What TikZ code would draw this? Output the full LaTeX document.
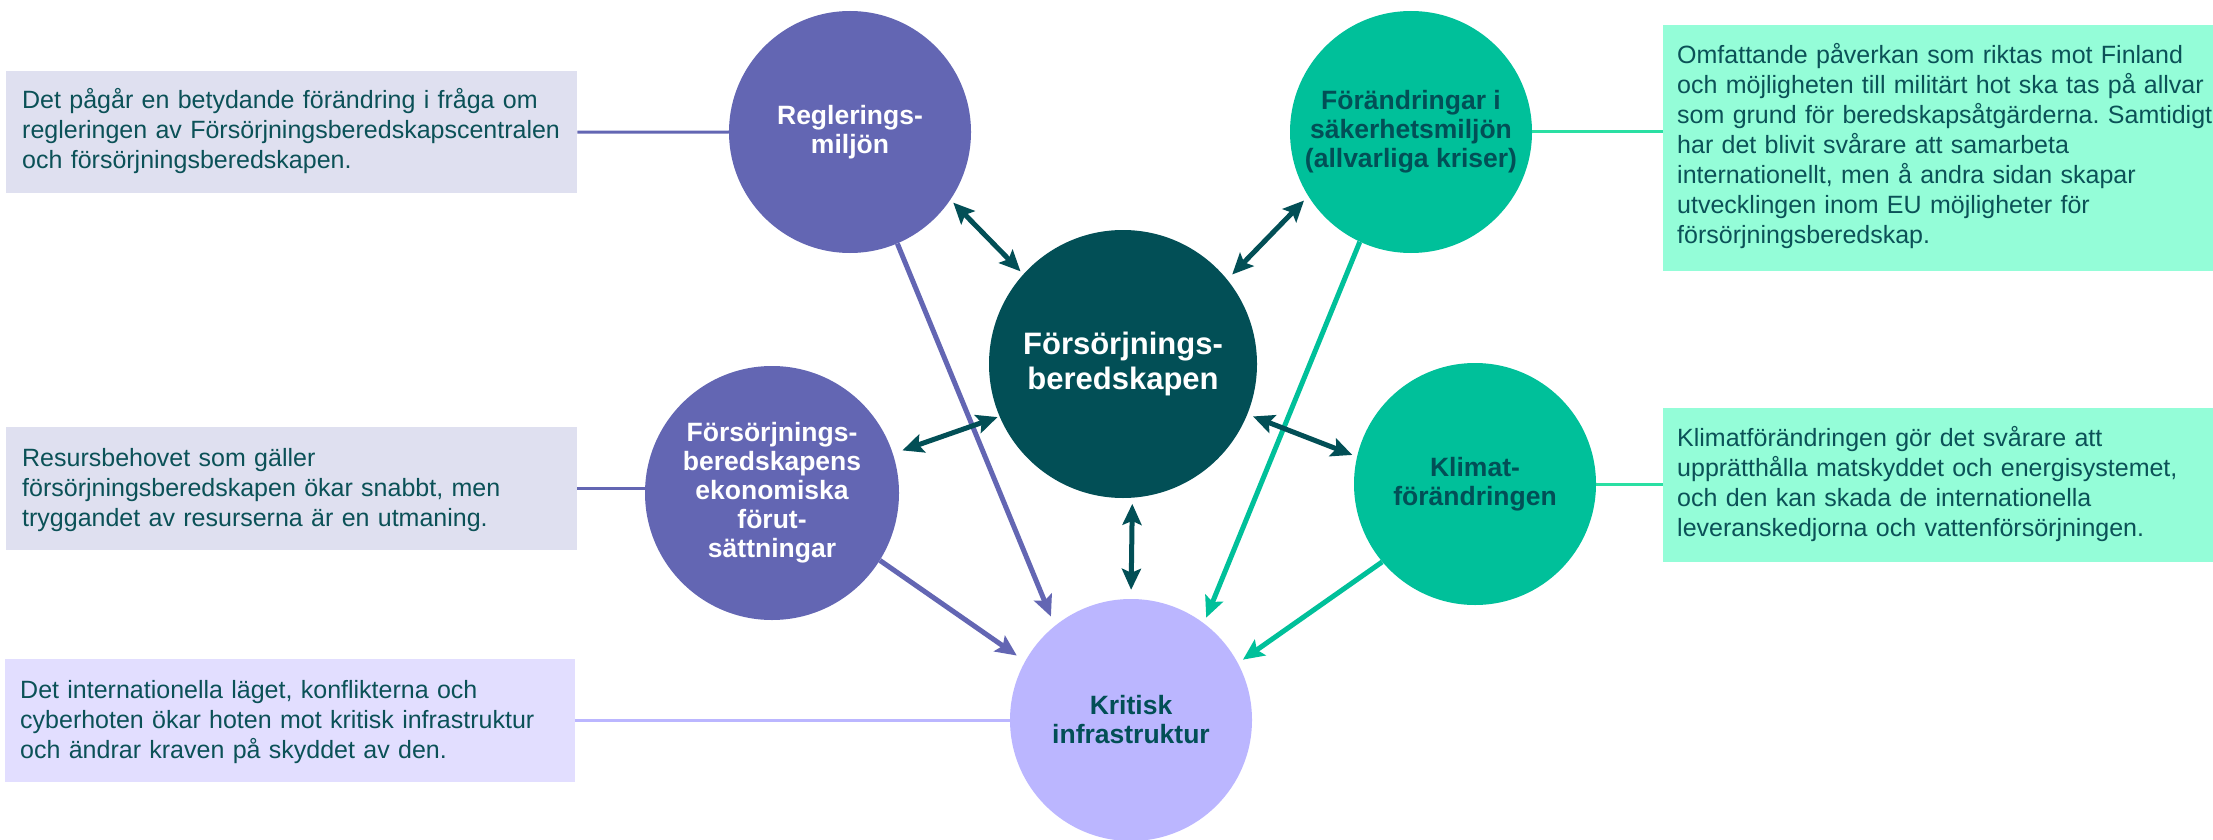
\documentclass[tikz,border=0pt]{standalone}
\usepackage{fontspec}
\setmainfont{Liberation Sans}
\usetikzlibrary{arrows.meta}
\definecolor{purp}{HTML}{6366B3}
\definecolor{grn}{HTML}{00C09A}
\definecolor{dteal}{HTML}{024F56}
\definecolor{lpurp}{HTML}{BBB6FF}
\definecolor{boxa}{HTML}{DFE0F0}
\definecolor{boxb}{HTML}{E2DEFF}
\definecolor{boxc}{HTML}{94FDD8}
\definecolor{txt}{HTML}{0B5157}
\definecolor{lgrn}{HTML}{2ADFA3}
\frenchspacing
\begin{document}
\begin{tikzpicture}[x=1pt,y=-1pt,
  circ/.style={circle, inner sep=0pt, minimum size=242pt, align=center, font=\bfseries\fontsize{26.5}{29}\selectfont},
  boxshape/.style={rectangle, inner sep=0pt, anchor=north west},
  btxt/.style={anchor=base west, inner sep=0pt, text width=560pt, align=left, text=txt, font=\frenchspacing\fontsize{25}{30}\selectfont},
  dbl/.style={draw=dteal, line width=5pt, {Stealth[length=21pt,width=19pt,inset=4pt]}-{Stealth[length=21pt,width=19pt,inset=4pt]}},
  onearrow/.style={line width=5pt, -{Stealth[length=21pt,width=19pt,inset=4pt]}},
  boxlink/.style={line width=3pt}
]
\useasboundingbox (0,0) rectangle (2213,840);
\fill[white] (0,0) rectangle (2213,840);

% boxes
\node[boxshape, fill=boxa, minimum width=571pt, minimum height=122pt] (b1) at (6,71) {};
\node[boxshape, fill=boxa, minimum width=571pt, minimum height=123pt] (b2) at (6,427) {};
\node[boxshape, fill=boxb, minimum width=570pt, minimum height=123pt] (b3) at (5,659) {};
\node[boxshape, fill=boxc, minimum width=550pt, minimum height=246pt] (b4) at (1663,25) {};
\node[boxshape, fill=boxc, minimum width=550pt, minimum height=154pt] (b5) at (1663,408) {};

% circles
\node[circ, fill=purp, text=white] (reg) at (850,132) {Reglerings-\\miljön};
\node[circ, fill=grn, text=dteal] (forand) at (1411,132) {Förändringar i\\säkerhetsmiljön\\(allvarliga kriser)};
\node[circ, fill=dteal, text=white, minimum size=268pt, font=\bfseries\fontsize{31}{35}\selectfont] (cen) at (1123,364) {Försörjnings-\\beredskapen};
\node[circ, fill=purp, text=white, minimum size=254pt] (fe) at (772,493) {Försörjnings-\\beredskapens\\ekonomiska\\förut-\\sättningar};
\node[circ, fill=grn, text=dteal] (klim) at (1475,484) {Klimat-\\förändringen};
\node[circ, fill=lpurp, text=dteal] (krit) at (1131,720) {Kritisk\\infrastruktur};

% box links
\draw[boxlink, purp] (b1.east) -- (reg.west);
\draw[boxlink, purp] (b2.east) -- (b2.east -| fe.west);
\draw[boxlink, lpurp] (b3.east) -- (b3.east -| krit.west);
\draw[boxlink, lgrn] (forand.east) -- (forand.east -| b4.west);
\draw[boxlink, lgrn] (klim.east) -- (klim.east -| b5.west);

% single arrows
\draw[onearrow, purp, shorten >=10pt] (reg.-67) -- (krit.129);
\draw[onearrow, purp, shorten >=10pt] (fe.-32) -- (krit.151);
\draw[onearrow, grn, shorten >=6pt] (forand.-115) -- (krit.53);
\draw[onearrow, grn, shorten >=6pt] (klim.220) -- (krit.28);

% double arrows
\draw[dbl, shorten <=4pt, shorten >=4pt] (reg.-34) -- (cen.138);
\draw[dbl, shorten <=6pt, shorten >=7pt] (forand.-148) -- (cen.39);
\draw[dbl, shorten <=10pt, shorten >=2pt] (fe.18) -- (cen.203);
\draw[dbl, shorten <=6pt, shorten >=5pt] (cen.-22) -- (klim.167);
\draw[dbl, shorten <=6pt, shorten >=9pt] (cen.-86) -- (krit.90);

% box texts
\node[btxt] (t1) at (22,109) {Det pågår en betydande förändring i fråga om\\regleringen av Försörjningsberedskapscentralen\\och försörjningsberedskapen.};
\node[btxt] (t2) at (22,466) {Resursbehovet som gäller\\försörjningsberedskapen ökar snabbt, men\\tryggandet av resurserna är en utmaning.};
\node[btxt] (t3) at (20,698) {Det internationella läget, konflikterna och\\cyberhoten ökar hoten mot kritisk infrastruktur\\och ändrar kraven på skyddet av den.};
\node[btxt] (t4) at (1677,64) {Omfattande påverkan som riktas mot Finland\\och möjligheten till militärt hot ska tas på allvar\\som grund för beredskapsåtgärderna. Samtidigt\\har det blivit svårare att samarbeta\\internationellt, men å andra sidan skapar\\utvecklingen inom EU möjligheter för\\försörjningsberedskap.};
\node[btxt] (t5) at (1677,446) {Klimatförändringen gör det svårare att\\upprätthålla matskyddet och energisystemet,\\och den kan skada de internationella\\leveranskedjorna och vattenförsörjningen.};
\end{tikzpicture}
\end{document}
